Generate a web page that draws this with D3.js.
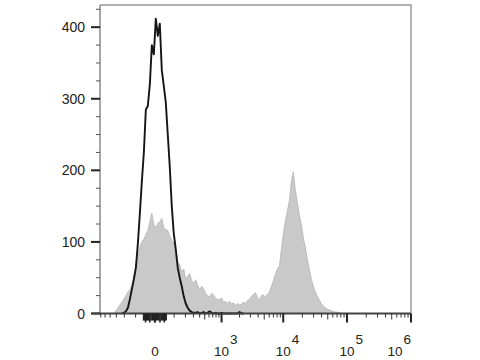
<!DOCTYPE html>
<html>
<head>
<meta charset="utf-8">
<script src="https://cdn.jsdelivr.net/npm/d3@7"></script>
<style>
  body { margin: 0; background: #fff; }
  svg { display: block; font-family: "Liberation Sans", Arial, sans-serif; }
</style>
</head>
<body>
<svg id="chart" width="480" height="360"></svg>
<script>
// histogram channels (156 display channels across the logicle axis)
const nChannels = 156;

// stained sample (grey filled), counts starting at channel grayStart
const grayStart = 8;
const grayCounts = [
  4, 8, 12, 16, 20, 25, 30, 33, 40, 52, 68, 80, 93, 100, 104, 110, 116, 128, 140, 124,
  120, 126, 128, 133, 120, 117, 116, 108, 102, 99, 88, 72, 68, 58, 62, 48, 52, 56, 46, 42,
  47, 40, 33, 38, 34, 28, 25, 23, 28, 26, 21, 20, 19, 22, 15, 17, 14, 17, 13, 15,
  11, 14, 12, 13, 16, 14, 18, 20, 24, 27, 29, 22, 19, 25, 26, 22, 27, 30, 38, 46,
  55, 62, 66, 90, 112, 130, 143, 158, 185, 198, 172, 155, 138, 124, 106, 92, 76, 62, 48, 38,
  30, 24, 19, 14, 10, 8, 6, 5, 4, 3, 2, 2, 1, 0
];

// isotype control (black line), counts starting at channel blackStart
const blackStart = 11;
const blackCounts = [
  0, 1, 3, 8, 20, 34, 48, 64, 98, 140, 185, 225, 285, 290, 320, 375, 362, 412, 388, 405,
  340, 318, 295, 250, 205, 150, 112, 90, 64, 50, 38, 24, 14, 8, 4, 2, 1, 1, 2, 0,
  1, 2, 0, 1, 3, 1, 0, 1, 0, 0, 1, 0, 0, 0, 0, 0, 0, 0, 0, 2, 0, 0
];

// axes
const yMax = 431;
const yMajor = [0, 100, 200, 300, 400];
const yMinor = [25, 50, 75, 125, 150, 175, 225, 250, 275, 325, 350, 375, 425];
const xMajor = [0, 1e3, 1e4, 1e5, 1e6];
const xMajorLabels = [null, '3', '4', '5', '6'];
const xDomain = [-620, 1e6];

const svg = d3.select('#chart');
const mLeft = 100, mRight = 411, mTop = 5, mBottom = 313.5;

const x = d3.scaleSymlog().constant(100).domain(xDomain).range([mLeft, mRight]);
const ch = d3.scaleLinear().domain([0, nChannels]).range([mLeft, mRight]);
const y = d3.scaleLinear().domain([0, yMax]).range([mBottom, mTop]);

// minor ticks on the x axis
const xMinor = [];
for (let v = -600; v <= 900; v += 100) if (v !== 0) xMinor.push(v);
for (const d of [1e3, 1e4, 1e5]) for (let k = 2; k <= 9; k++) xMinor.push(k * d);
const xDense = d3.range(-50, 51, 5);

// grey histogram
const grayPts = grayCounts.map((c, i) => [grayStart + i, c]);
grayPts.unshift([grayStart - 1, 0]);

svg.append('path')
  .datum(grayPts)
  .attr('fill', '#c9c9c9')
  .attr('stroke', '#b3b3b3')
  .attr('stroke-width', 0.8)
  .attr('d', d3.area()
    .x(d => ch(d[0]))
    .y0(y(0))
    .y1(d => y(d[1])));

// black histogram
const blackPts = blackCounts.map((c, i) => [blackStart + i, c]);
svg.append('path')
  .datum(blackPts)
  .attr('fill', 'none')
  .attr('stroke', '#151515')
  .attr('stroke-width', 1.9)
  .attr('stroke-linejoin', 'round')
  .attr('d', d3.line()
    .x(d => ch(d[0]))
    .y(d => y(d[1])));

// frame
svg.append('path')
  .attr('d', `M${mLeft},${mTop}H${mRight}V${mBottom}`)
  .attr('fill', 'none')
  .attr('stroke', '#999')
  .attr('stroke-width', 1.5);

// y axis
const yAxis = svg.append('g');
yAxis.append('line')
  .attr('x1', mLeft).attr('x2', mLeft)
  .attr('y1', mTop).attr('y2', mBottom)
  .attr('stroke', '#8a8a8a').attr('stroke-width', 1.5);
yAxis.selectAll('.ymin').data(yMinor).enter().append('line')
  .attr('x1', mLeft - 4).attr('x2', mLeft)
  .attr('y1', d => y(d)).attr('y2', d => y(d))
  .attr('stroke', '#555').attr('stroke-width', 1);
yAxis.selectAll('.ymaj').data(yMajor).enter().append('line')
  .attr('x1', mLeft - 9).attr('x2', mLeft)
  .attr('y1', d => y(d)).attr('y2', d => y(d))
  .attr('stroke', '#222').attr('stroke-width', 2);
yAxis.selectAll('text').data(yMajor).enter().append('text')
  .attr('x', 85)
  .attr('y', d => y(d))
  .attr('dy', '0.36em')
  .attr('text-anchor', 'end')
  .attr('font-size', 14)
  .attr('fill', '#222')
  .text(d => d);

// x axis
const xAxis = svg.append('g');
xAxis.append('line')
  .attr('x1', mLeft - 8).attr('x2', mRight)
  .attr('y1', mBottom).attr('y2', mBottom)
  .attr('stroke', '#444').attr('stroke-width', 2);
xAxis.selectAll('.xmin').data(xMinor).enter().append('line')
  .attr('x1', d => x(d)).attr('x2', d => x(d))
  .attr('y1', mBottom).attr('y2', d => mBottom + ((d / Math.pow(10, Math.floor(Math.log10(Math.abs(d))))) === 5 ? 6 : 4))
  .attr('stroke', '#333').attr('stroke-width', 1);
xAxis.selectAll('.xdense').data(xDense).enter().append('line')
  .attr('x1', d => x(d)).attr('x2', d => x(d))
  .attr('y1', mBottom).attr('y2', d => mBottom + (d % 20 === 0 ? 9 : 7))
  .attr('stroke', '#222').attr('stroke-width', 1.6);
xAxis.selectAll('.xmaj').data(xMajor).enter().append('line')
  .attr('x1', d => x(d)).attr('x2', d => x(d))
  .attr('y1', mBottom).attr('y2', mBottom + 9)
  .attr('stroke', '#222').attr('stroke-width', 2);

const labelY = 356;
const labelSize = 13.5;
xMajor.forEach((v, i) => {
  const px = x(v);
  if (xMajorLabels[i] === null) {
    xAxis.append('text')
      .attr('x', px).attr('y', labelY)
      .attr('text-anchor', 'middle')
      .attr('font-size', labelSize).attr('fill', '#222')
      .text('0');
    return;
  }
  const base = xAxis.append('text')
    .attr('y', labelY)
    .attr('font-size', labelSize).attr('fill', '#222')
    .text('10');
  const w = base.node().getComputedTextLength();
  const sup = xAxis.append('text')
    .attr('y', labelY - 12)
    .attr('font-size', labelSize).attr('fill', '#222')
    .text(xMajorLabels[i]);
  const sw = sup.node().getComputedTextLength();
  let x0 = px - w / 2;
  if (x0 + w + sw + 1 > mRight) x0 = mRight - w - sw - 1;
  base.attr('x', x0);
  sup.attr('x', x0 + w + 1);
});
</script>
</body>
</html>
